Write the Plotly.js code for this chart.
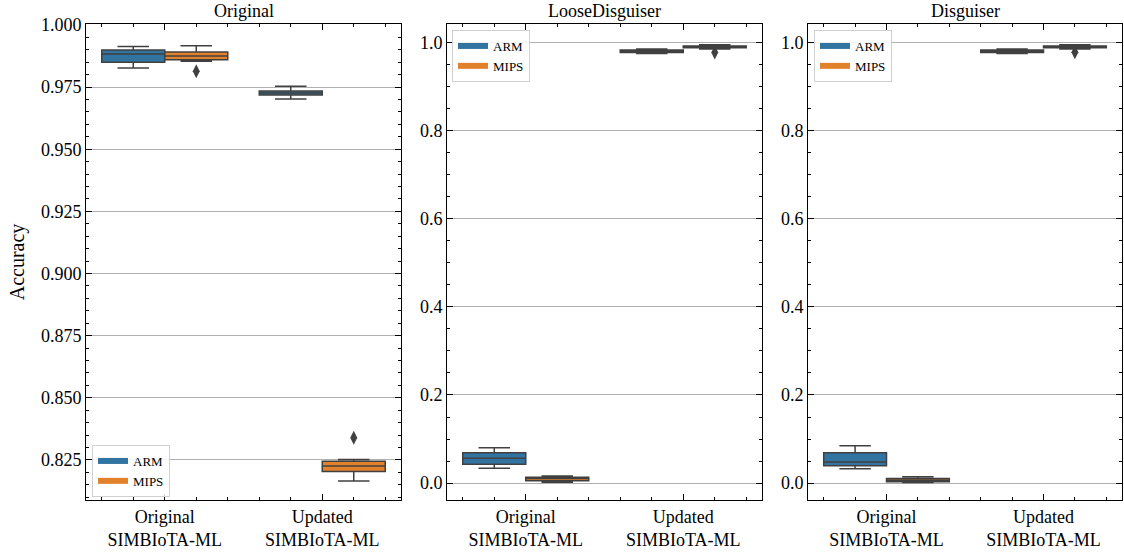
<!DOCTYPE html>
<html>
<head>
<meta charset="utf-8">
<script src="https://cdn.plot.ly/plotly-3.0.1.min.js"></script>
<style>html,body{margin:0;padding:0;background:#fff;}#chart{width:1124px;height:552px;}</style>
</head>
<body>
<div id="chart"></div>
<script>
// ---- Data ----
const categories = ['Original<br>SIMBIoTA-ML', 'Updated<br>SIMBIoTA-ML'];
const panelTitles = ['Original', 'LooseDisguiser', 'Disguiser'];
const seriesNames = ['ARM', 'MIPS'];

// Each: [Original SIMBIoTA-ML, Updated SIMBIoTA-ML]
const original_ARM_low  = [0.9827, 0.9702];
const original_ARM_q1   = [0.9850, 0.9718];
const original_ARM_med  = [0.9883, 0.9726];
const original_ARM_q3   = [0.9899, 0.9734];
const original_ARM_high = [0.9913, 0.9754];
const original_ARM_out  = [[], []];

const original_MIPS_low  = [0.9854, 0.8165];
const original_MIPS_q1   = [0.9860, 0.8204];
const original_MIPS_med  = [0.9875, 0.8226];
const original_MIPS_q3   = [0.9891, 0.8245];
const original_MIPS_high = [0.9917, 0.8252];
const original_MIPS_out  = [[0.9814], [0.8339]];

const loose_ARM_low  = [0.0334, 0.976];
const loose_ARM_q1   = [0.0425, 0.978];
const loose_ARM_med  = [0.0561, 0.981];
const loose_ARM_q3   = [0.0689, 0.984];
const loose_ARM_high = [0.0802, 0.986];
const loose_ARM_out  = [[], []];

const loose_MIPS_low  = [0.002, 0.986];
const loose_MIPS_q1   = [0.005, 0.989];
const loose_MIPS_med  = [0.010, 0.991];
const loose_MIPS_q3   = [0.013, 0.993];
const loose_MIPS_high = [0.016, 0.996];
const loose_MIPS_out  = [[], [0.978]];

const disg_ARM_low  = [0.0325, 0.976];
const disg_ARM_q1   = [0.0393, 0.978];
const disg_ARM_med  = [0.0477, 0.981];
const disg_ARM_q3   = [0.0689, 0.984];
const disg_ARM_high = [0.0848, 0.986];
const disg_ARM_out  = [[], []];

const disg_MIPS_low  = [0.001, 0.986];
const disg_MIPS_q1   = [0.003, 0.989];
const disg_MIPS_med  = [0.006, 0.991];
const disg_MIPS_q3   = [0.010, 0.993];
const disg_MIPS_high = [0.014, 0.996];
const disg_MIPS_out  = [[], [0.979]];

// ---- Style ----
const FONT = 'Liberation Serif, Times New Roman, serif';
const colors = {ARM: '#3274a1', MIPS: '#e1812c'};
const lineCol = '#404040';
const W = 1124, H = 552;
const xDomPx = [[86, 401], [447, 762], [808, 1122]];
const yDom = [1 - 500 / H, 1 - 24 / H];
const yRanges = [[0.8089, 1.0004], [-0.0386, 1.043], [-0.0386, 1.043]];

const panelData = [
  {ARM: [original_ARM_low, original_ARM_q1, original_ARM_med, original_ARM_q3, original_ARM_high, original_ARM_out],
   MIPS: [original_MIPS_low, original_MIPS_q1, original_MIPS_med, original_MIPS_q3, original_MIPS_high, original_MIPS_out]},
  {ARM: [loose_ARM_low, loose_ARM_q1, loose_ARM_med, loose_ARM_q3, loose_ARM_high, loose_ARM_out],
   MIPS: [loose_MIPS_low, loose_MIPS_q1, loose_MIPS_med, loose_MIPS_q3, loose_MIPS_high, loose_MIPS_out]},
  {ARM: [disg_ARM_low, disg_ARM_q1, disg_ARM_med, disg_ARM_q3, disg_ARM_high, disg_ARM_out],
   MIPS: [disg_MIPS_low, disg_MIPS_q1, disg_MIPS_med, disg_MIPS_q3, disg_MIPS_high, disg_MIPS_out]}
];

const boxW = 0.4;
const offsets = {ARM: -0.2, MIPS: 0.2};
const traces = [];
panelData.forEach((pd, p) => {
  const sfx = p === 0 ? '' : String(p + 1);
  seriesNames.forEach(s => {
    const [low, q1, med, q3, high, out] = pd[s];
    const xs = categories.map((c, i) => i + offsets[s]);
    traces.push({
      type: 'box', name: s, x: xs,
      lowerfence: low, q1: q1, median: med, q3: q3, upperfence: high,
      width: boxW, whiskerwidth: 0.5, boxpoints: false,
      fillcolor: colors[s], line: {color: lineCol, width: 1.5},
      xaxis: 'x' + sfx, yaxis: 'y' + sfx,
      showlegend: false, hoverinfo: 'y'
    });
    const ox = [], oy = [];
    out.forEach((vals, i) => vals.forEach(v => { ox.push(i + offsets[s]); oy.push(v); }));
    if (ox.length) {
      traces.push({
        type: 'scatter', mode: 'markers', x: ox, y: oy, showlegend: false,
        marker: {symbol: 'diamond-tall', size: 10, color: lineCol},
        xaxis: 'x' + sfx, yaxis: 'y' + sfx, hoverinfo: 'y'
      });
    }
  });
  // legend patches (matplotlib-style wide rectangles)
  seriesNames.forEach(s => {
    traces.push({
      type: 'scatter', mode: 'none', name: s, x: [null], y: [null],
      fill: 'toself', fillcolor: colors[s],
      xaxis: 'x' + sfx, yaxis: 'y' + sfx,
      legend: 'legend' + sfx, showlegend: true, hoverinfo: 'skip'
    });
  });
});

const layout = {
  width: W, height: H,
  margin: {l: 0, r: 0, t: 0, b: 0},
  paper_bgcolor: '#fff', plot_bgcolor: '#fff',
  font: {family: FONT, size: 18, color: '#000'},
  boxmode: 'overlay',
  annotations: panelTitles.map((t, p) => ({
    text: t, xref: 'paper', yref: 'paper',
    x: (xDomPx[p][0] + xDomPx[p][1]) / 2 / W, y: 1 - 11 / H,
    xanchor: 'center', yanchor: 'middle', showarrow: false,
    font: {family: FONT, size: 18, color: '#000'}
  }))
};

const legendPos = [
  {x: 92 / W, y: 1 - 497 / H, yanchor: 'bottom'},
  {x: 452 / W, y: 1 - 30 / H, yanchor: 'top'},
  {x: 814 / W, y: 1 - 30 / H, yanchor: 'top'}
];

for (let p = 0; p < 3; p++) {
  const sfx = p === 0 ? '' : String(p + 1);
  layout['xaxis' + sfx] = {
    domain: [xDomPx[p][0] / W, xDomPx[p][1] / W],
    anchor: 'y' + sfx, range: [-0.5, 1.5],
    tickmode: 'array', tickvals: categories.map((c, i) => i), ticktext: categories,
    ticks: 'inside', ticklen: 6, tickwidth: 1, tickcolor: '#000',
    minor: {dtick: 0.2, tick0: 0, ticks: 'inside', ticklen: 3, tickcolor: '#000', showgrid: false},
    showline: true, linecolor: '#000', linewidth: 1, mirror: 'allticks',
    showgrid: false, zeroline: false, fixedrange: true,
    tickfont: {family: FONT, size: 18, color: '#000'}
  };
  layout['yaxis' + sfx] = {
    domain: yDom, anchor: 'x' + sfx, range: yRanges[p],
    dtick: p === 0 ? 0.025 : 0.2, tick0: 0,
    tickformat: p === 0 ? '.3f' : '.1f',
    ticks: 'inside', ticklen: 6, tickwidth: 1, tickcolor: '#000',
    minor: {dtick: p === 0 ? 0.005 : 0.05, tick0: 0, ticks: 'inside', ticklen: 3, tickcolor: '#000', showgrid: false},
    showline: true, linecolor: '#000', linewidth: 1, mirror: 'allticks',
    showgrid: true, gridcolor: '#b0b0b0', gridwidth: 1, zeroline: false, fixedrange: true,
    tickfont: {family: FONT, size: 18, color: '#000'},
    title: p === 0 ? {text: 'Accuracy', font: {family: FONT, size: 20, color: '#000'}, standoff: 10} : {text: ''}
  };
  layout['legend' + sfx] = Object.assign({
    xanchor: 'left', xref: 'paper', yref: 'paper',
    bgcolor: 'rgba(255,255,255,0.85)', bordercolor: '#d0d0d0', borderwidth: 1,
    font: {family: FONT, size: 13, color: '#000'}, tracegroupgap: 2, itemwidth: 30
  }, legendPos[p]);
}

Plotly.newPlot('chart', traces, layout, {displayModeBar: false, staticPlot: true});
</script>
</body>
</html>
